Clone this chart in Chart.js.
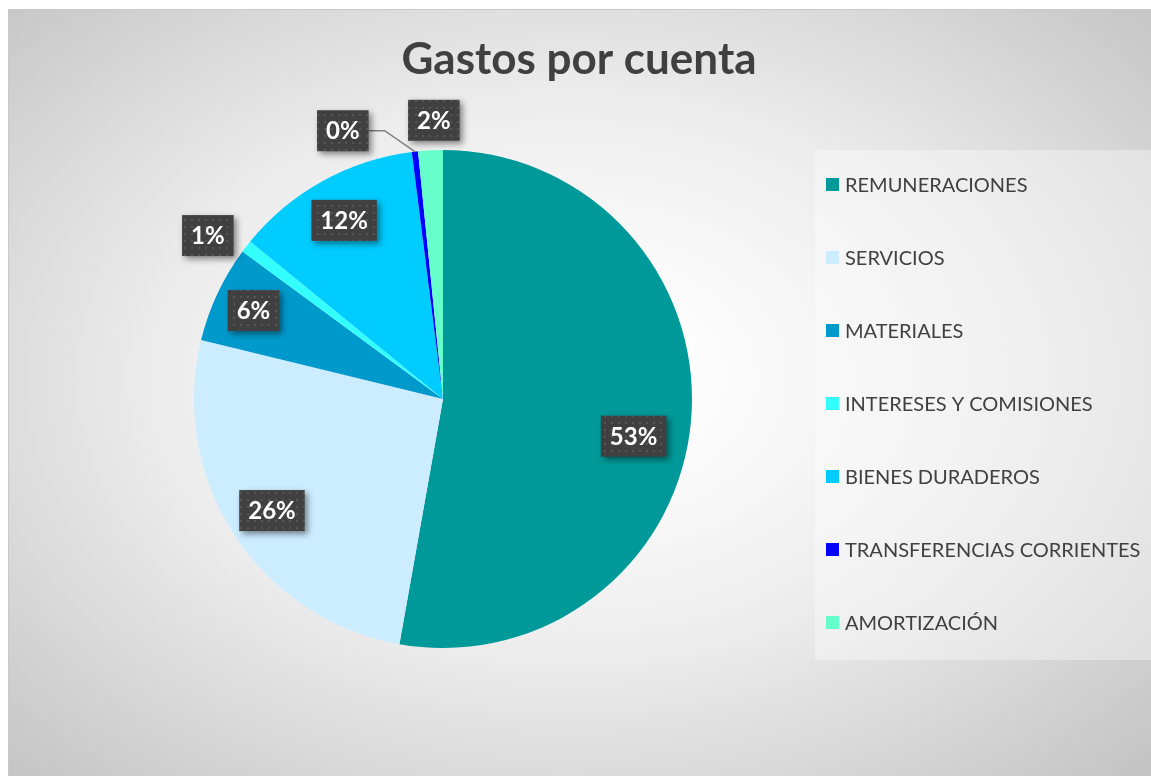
<!DOCTYPE html>
<html>
<head>
<meta charset="utf-8">
<script src="https://cdn.jsdelivr.net/npm/chart.js@4/dist/chart.umd.min.js"></script>
<style>
  html, body { margin: 0; padding: 0; background: #fff; }
  body { width: 1151px; height: 776px; position: relative; overflow: hidden; }
  #frame {
    position: absolute; left: 8px; top: 9px; width: 1143px; height: 767px;
    box-sizing: border-box; border-left: 1px solid #c9c9c9; border-top: 1px solid #c9c9c9;
    background: radial-gradient(ellipse farthest-corner at 49% 48%, #ffffff 0%, #ffffff 12%, #ececec 50%, #c3c3c3 100%);
  }
  #chart { position: absolute; left: 0; top: 0; }
</style>
</head>
<body>
<div id="frame"></div>
<canvas id="chart" width="1151" height="776"></canvas>
<script>
const title = 'Gastos por cuenta';
const categories = ['REMUNERACIONES', 'SERVICIOS', 'MATERIALES', 'INTERESES Y COMISIONES',
                    'BIENES DURADEROS', 'TRANSFERENCIAS CORRIENTES', 'AMORTIZACIÓN'];
const values = [52.8, 26.0, 6.3, 0.8, 12.1, 0.4, 1.6];
const sliceColors = ['#009999', '#CCECFF', '#0099CC', '#33FFFF', '#00CCFF', '#0000FF', '#66FFCC'];

// label placement (fraction of radius, angle nudge in degrees)
const labelRadius = [0.78, 0.82, 0.84, 1.15, 0.82, 1.15, 1.12];
const labelNudge = [6, 0, 0, -3, 0, -14, 1];
const leaderFor = [5];

const textColor = '#404040';
const font = 'Lato, "Open Sans", sans-serif';

function makePattern(ctx) {
    const c = document.createElement('canvas');
    c.width = 7; c.height = 7;
    const p = c.getContext('2d');
    p.fillStyle = '#404040';
    p.fillRect(0, 0, 7, 7);
    p.fillStyle = '#565656';
    p.fillRect(2, 2, 2, 2);
    return ctx.createPattern(c, 'repeat');
}

const decorations = {
    id: 'decorations',
    beforeDraw(chart) {
        const ctx = chart.ctx;
        ctx.save();
        // legend panel
        ctx.fillStyle = 'rgba(255,255,255,0.35)';
        ctx.fillRect(815, 150, 336, 510);
        // title
        ctx.fillStyle = textColor;
        ctx.font = 'bold 44px ' + font;
        ctx.textAlign = 'center';
        ctx.textBaseline = 'middle';
        ctx.fillText(title, 579, 60);
        // legend
        ctx.font = '20px ' + font;
        ctx.textAlign = 'left';
        chart.data.labels.forEach((lab, i) => {
            const y = 185 + i * 73;
            ctx.fillStyle = sliceColors[i];
            ctx.fillRect(826, y - 7, 13, 13);
            ctx.fillStyle = textColor;
            ctx.fillText(lab, 845, y + 1);
        });
        ctx.restore();
    },
    afterDatasetsDraw(chart) {
        const ctx = chart.ctx;
        const meta = chart.getDatasetMeta(0);
        const data = chart.data.datasets[0].data;
        const total = data.reduce((a, b) => a + b, 0);
        const pattern = makePattern(ctx);
        ctx.save();
        ctx.font = 'bold 24px ' + font;
        ctx.textAlign = 'center';
        ctx.textBaseline = 'middle';
        meta.data.forEach((arc, i) => {
            const { x, y, startAngle, endAngle, outerRadius } = arc.getProps(['x', 'y', 'startAngle', 'endAngle', 'outerRadius'], true);
            const mid = (startAngle + endAngle) / 2;
            const a = mid + labelNudge[i] * Math.PI / 180;
            const r = outerRadius * labelRadius[i];
            const cx = x + Math.cos(a) * r;
            const cy = y + Math.sin(a) * r;
            const txt = Math.round(data[i] / total * 100) + '%';
            const w = ctx.measureText(txt).width + 18;
            const h = 41;
            const bx = cx - w / 2, by = cy - h / 2;

            if (leaderFor.includes(i)) {
                const ex = x + Math.cos(mid) * outerRadius;
                const ey = y + Math.sin(mid) * outerRadius;
                ctx.strokeStyle = '#808080';
                ctx.lineWidth = 1.5;
                ctx.beginPath();
                ctx.moveTo(bx + w, cy);
                ctx.lineTo(bx + w + 16, cy);
                ctx.lineTo(ex, ey);
                ctx.stroke();
            }

            ctx.save();
            ctx.shadowColor = 'rgba(0,0,0,0.45)';
            ctx.shadowBlur = 6;
            ctx.shadowOffsetX = 3;
            ctx.shadowOffsetY = 3;
            ctx.fillStyle = pattern;
            ctx.fillRect(bx, by, w, h);
            ctx.restore();

            ctx.fillStyle = '#ffffff';
            ctx.fillText(txt, cx, cy + 1);
        });
        ctx.restore();
    }
};

new Chart(document.getElementById('chart'), {
    type: 'pie',
    data: {
        labels: categories,
        datasets: [{
            data: values,
            backgroundColor: sliceColors,
            borderWidth: 0
        }]
    },
    options: {
        responsive: false,
        animation: false,
        devicePixelRatio: 1,
        layout: { padding: { left: 194, right: 459, top: 150, bottom: 128 } },
        plugins: {
            legend: { display: false },
            title: { display: false },
            tooltip: { enabled: false }
        }
    },
    plugins: [decorations]
});
</script>
</body>
</html>
